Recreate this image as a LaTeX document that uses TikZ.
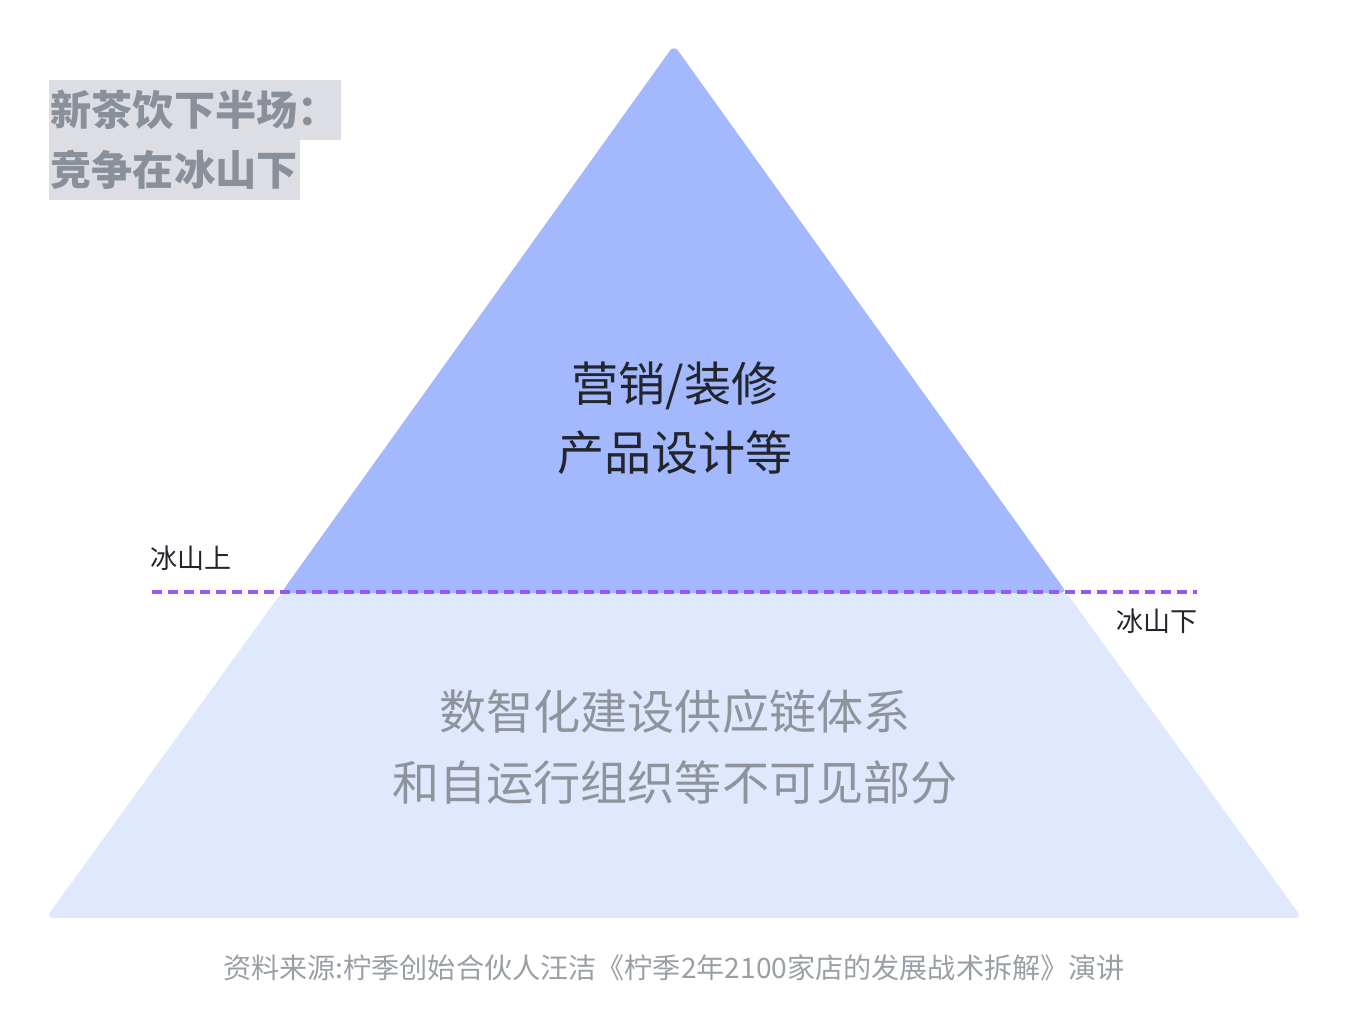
\documentclass[tikz,border=0pt]{standalone}
\usepackage{fontspec}
\setmainfont{Noto Sans CJK SC}
\definecolor{iceTop}{HTML}{A3B8FD}
\definecolor{iceLow}{HTML}{E0E8FE}
\definecolor{waterLine}{HTML}{935AF5}
\definecolor{titleBg}{HTML}{DDDEE3}
\definecolor{titleFg}{HTML}{8A9099}
\definecolor{darkText}{HTML}{22252C}
\definecolor{grayText}{HTML}{8E939C}
\definecolor{srcText}{HTML}{9A9FA6}
\begin{document}
\begin{tikzpicture}[x=0.01cm,y=-0.01cm,
	title/.style={anchor=west,fill=titleBg,text=titleFg,inner xsep=0.02cm,inner ysep=0pt,
		minimum height=0.6cm,font=\fontsize{11.7pt}{11.7pt}\selectfont\bfseries},
	big/.style={font=\fontsize{13.4pt}{13.4pt}\selectfont},
	small/.style={text=darkText,font=\fontsize{7.7pt}{7.7pt}\selectfont}]
		\useasboundingbox (0,0) rectangle (1350,1034);
		
		% under water part
		\fill[iceLow,rounded corners=0.07cm] (282,592) -- (46,918) -- (1302,918) -- (1066,592) -- cycle;
		% above water part
		\fill[iceTop,rounded corners=0.07cm] (674,45) -- (1067,593) -- (281,593) -- cycle;
		
		% water line
		\coordinate (wl) at (152,592);
		\coordinate (wr) at (1197,592);
		\draw[waterLine,line width=0.035cm,dash pattern=on 0.1cm off 0.06cm] (wl) -- (wr);
		
		\node[small,anchor=west,inner sep=0pt] (above) at (150,558) {冰山上};
		\node[small,anchor=east,inner sep=0pt] (below) at (1198,621) {冰山下};
		
		\node[title] (t1) at (48,110) {新茶饮下半场：};
		\node[title] (t2) at (48,170) {竞争在冰山下};
		
		\node[big,text=darkText,align=center] (top) at (675,418) {营销/装修\\[0.17cm]产品设计等};
		\node[big,text=grayText,align=center] (low) at (675,747) {数智化建设供应链体系\\[0.23cm]和自运行组织等不可见部分};
		
		\node[text=srcText,font=\fontsize{8pt}{8pt}\selectfont] (src) at (674,968)
			{资料来源:柠季创始合伙人汪洁《柠季2年2100家店的发展战术拆解》演讲};
	\end{tikzpicture}
\end{document}
